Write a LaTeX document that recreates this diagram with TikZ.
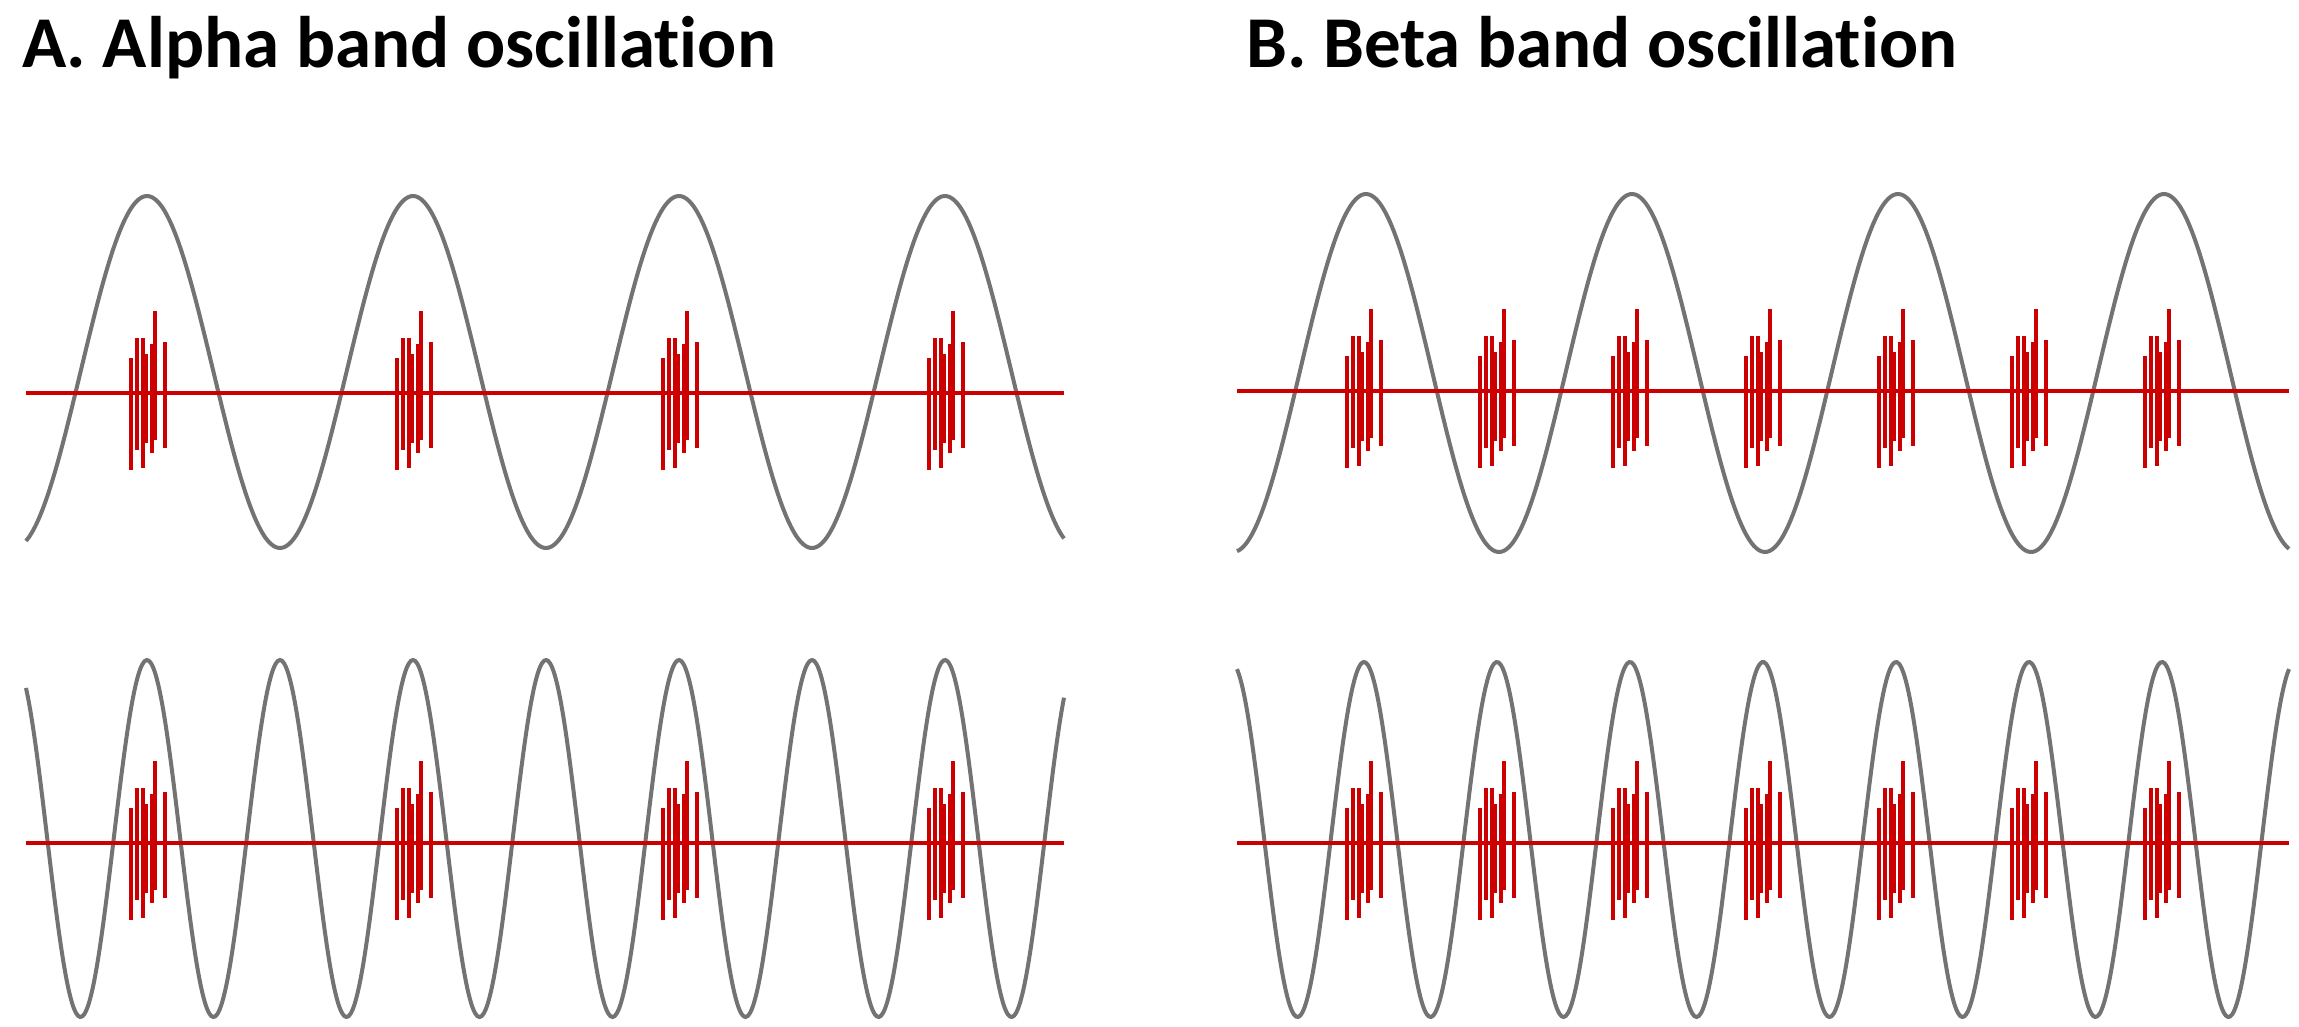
\documentclass[tikz,border=0pt]{standalone}
\usepackage{fontspec}
\setmainfont[Ligatures=NoCommon]{Carlito}
\begin{document}
\begin{tikzpicture}[x=1pt,y=-1pt,
  wave/.style={draw=black!55,line width=4pt},
  base/.style={draw=red!80!black,line width=4pt},
  spike/.style={draw=red!80!black,line width=4.5pt},
  title/.style={anchor=base west,font=\fontsize{73}{80}\selectfont\bfseries,inner sep=0}]
\useasboundingbox (0,0) rectangle (2299,1027);
\node[title] (ta) at (22,68) {A. Alpha band oscillation};
\node[title] (tb) at (1246,68) {B. Beta band oscillation};
% waves
\draw[wave] plot[domain=26:1064,samples=400,smooth] (\x,{372-176*cos((\x-147)/266*360)});
\draw[wave] plot[domain=26:1064,samples=500,smooth] (\x,{838.5-178.5*cos((\x-147)/133*360)});
\draw[wave] plot[domain=1237:2289,samples=400,smooth] (\x,{373-179*cos((\x-1366)/266*360)});
\draw[wave] plot[domain=1237:2289,samples=500,smooth] (\x,{839.5-177.5*cos((\x-1364)/133*360)});
% baselines
\draw[base] (26,393) -- (1064,393);
\draw[base] (26,843) -- (1064,843);
\draw[base] (1237,391) -- (2289,391);
\draw[base] (1237,843) -- (2289,843);
% bursts
\newcommand\myburst[2]{%
  \foreach \dx/\up/\dn in {-17/35/77,-11/55/57,-5/55/75,-2/39/50,4/49/60,7/82/47,17/51/55}
    \draw[spike] (#1+\dx,#2-\up) -- (#1+\dx,#2+\dn);}
\foreach \c in {148,414,680,946}{\myburst{\c}{393}\myburst{\c}{843}}
\foreach \k in {0,...,6}{\pgfmathsetmacro\c{1364+133*\k}\myburst{\c}{391}\myburst{\c}{843}}
\end{tikzpicture}
\end{document}
